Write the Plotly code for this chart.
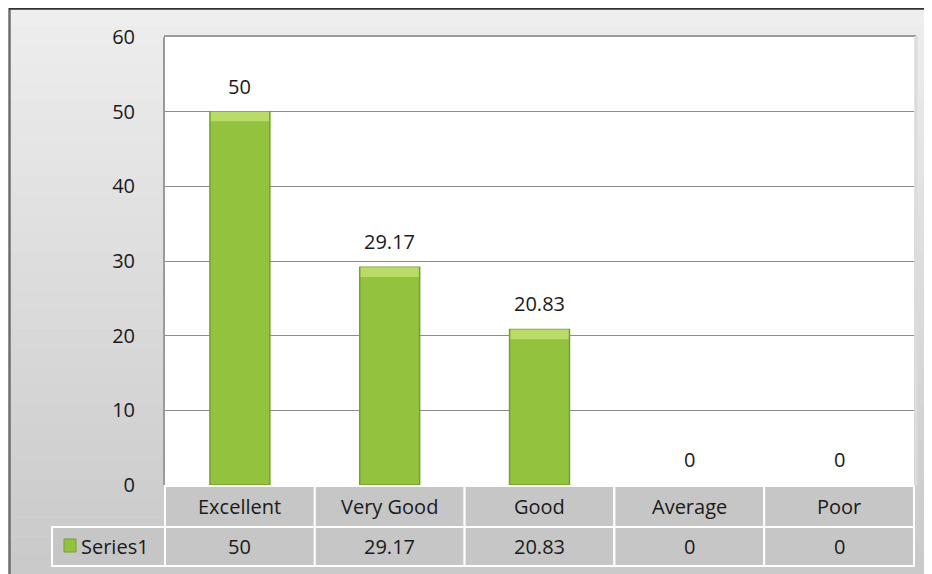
import plotly.graph_objects as go

# ---- data ----
categories = ["Excellent", "Very Good", "Good", "Average", "Poor"]
values = [50, 29.17, 20.83, 0, 0]
value_labels = ["50", "29.17", "20.83", "0", "0"]
series_name = "Series1"
y_ticks = [0, 10, 20, 30, 40, 50, 60]

# ---- layout geometry (pixels, in screenshot coordinates; page body has an 8px margin) ----
OFF = 8
W, H = 932 - OFF, 574 - OFF
PL, PR, PT, PB = 165, 914, 37, 485     # plot area in screenshot coords
L, R, T, B = PL - OFF, W - (PR - OFF), PT - OFF, H - (PB - OFF)
FONT = "Open Sans"
TXT = "#1a1a1a"
FS = 20
BAR = "#92c23e"
BAR_EDGE = "#76a02c"
BEVEL = "#b9dc68"
BEVEL_H = 1.3   # bevel thickness in axis units

def px(x):
    return (x - OFF - L) / (W - L - R)

def py(y):
    return (H - B - (y - OFF)) / (H - T - B)

n = len(categories)
x_range = [-0.5, n - 0.5]

def cx(i, off=0.0):
    return (i + off - x_range[0]) / (x_range[1] - x_range[0])

fig = go.Figure()
fig.add_trace(go.Bar(
    x=categories, y=values, width=0.4, name=series_name,
    marker=dict(color=BAR,
                line=dict(color=BAR_EDGE, width=[1.5 if v > 0 else 0 for v in values])),
    showlegend=False, hoverinfo="skip",
))
# top bevel highlight
fig.add_trace(go.Bar(
    x=categories, y=[BEVEL_H if v > 0 else 0 for v in values],
    base=[v - BEVEL_H if v > 0 else 0 for v in values], width=0.4 - 0.012,
    marker=dict(color=BEVEL, line=dict(width=0)),
    showlegend=False, hoverinfo="skip",
))

shapes = []
# outer gray gradient background
bands = 30
top_y, bot_y = 7, 574
for k in range(bands):
    y0 = top_y + (bot_y - top_y) * k / bands
    y1 = top_y + (bot_y - top_y) * (k + 1) / bands
    t = k / (bands - 1)
    c = int(238 - (238 - 202) * t)
    shapes.append(dict(type="rect", xref="paper", yref="paper", layer="below",
                       x0=px(9), x1=px(940), y0=py(y0), y1=py(y1 + 0.5),
                       fillcolor=f"rgb({c},{c},{c})", line=dict(width=0)))
# outer border
shapes.append(dict(type="line", xref="paper", yref="paper", layer="below",
                   x0=px(9.5), x1=px(9.5), y0=py(8), y1=py(580),
                   line=dict(color="#6e6e6e", width=2.5)))
shapes.append(dict(type="line", xref="paper", yref="paper", layer="below",
                   x0=px(9), x1=px(940), y0=py(8.5), y1=py(8.5),
                   line=dict(color="#333333", width=2.5)))
# plot area white
shapes.append(dict(type="rect", xref="paper", yref="paper", layer="below",
                   x0=0, x1=1, y0=0, y1=1, fillcolor="white", line=dict(width=0)))
# plot area shadow on top/right
shapes.append(dict(type="line", xref="paper", yref="paper", layer="below",
                   x0=px(PL - 1), x1=px(PR + 2), y0=py(PT - 1), y1=py(PT - 1),
                   line=dict(color="#9a9a9a", width=2)))
shapes.append(dict(type="line", xref="paper", yref="paper", layer="below",
                   x0=px(PR + 2), x1=px(PR + 2), y0=py(PT - 1), y1=py(PB),
                   line=dict(color="#dcdcdc", width=3)))

# table
hdr_top, hdr_bot, val_bot = 486, 527, 566
cell_fill = "#c6c6c6"
for i in range(n):
    for (ya, yb) in [(hdr_top, hdr_bot), (hdr_bot, val_bot)]:
        shapes.append(dict(type="rect", xref="paper", yref="paper", layer="above",
                           x0=cx(i, -0.5), x1=cx(i, 0.5), y0=py(yb), y1=py(ya),
                           fillcolor=cell_fill, line=dict(color="white", width=2)))
# series name cell
shapes.append(dict(type="rect", xref="paper", yref="paper", layer="above",
                   x0=px(52), x1=0, y0=py(val_bot), y1=py(hdr_bot),
                   fillcolor=cell_fill, line=dict(color="white", width=2)))
# legend key
shapes.append(dict(type="rect", xref="paper", yref="paper", layer="above",
                   x0=px(64), x1=px(76), y0=py(552), y1=py(539),
                   fillcolor=BAR, line=dict(color=BAR_EDGE, width=1)))

annotations = []
for i, (c, v, lab) in enumerate(zip(categories, values, value_labels)):
    annotations.append(dict(x=c, y=v, xref="x", yref="y", text=lab, showarrow=False,
                            yanchor="bottom", yshift=10,
                            font=dict(family=FONT, size=FS, color=TXT)))
    annotations.append(dict(x=cx(i), y=py((hdr_top + hdr_bot) / 2), xref="paper", yref="paper",
                            text=c, showarrow=False, xanchor="center", yanchor="middle",
                            font=dict(family=FONT, size=FS, color=TXT)))
    annotations.append(dict(x=cx(i), y=py((hdr_bot + val_bot) / 2), xref="paper", yref="paper",
                            text=lab, showarrow=False, xanchor="center", yanchor="middle",
                            font=dict(family=FONT, size=FS, color=TXT)))
annotations.append(dict(x=px(79), y=py((hdr_bot + val_bot) / 2), xref="paper", yref="paper",
                        text=series_name, showarrow=False, xanchor="left", yanchor="middle",
                        font=dict(family=FONT, size=FS, color=TXT)))

fig.update_layout(
    width=W, height=H,
    margin=dict(l=L, r=R, t=T, b=B),
    paper_bgcolor="white", plot_bgcolor="white",
    shapes=shapes, annotations=annotations,
    barmode="overlay",
    xaxis=dict(range=x_range, showticklabels=False, showgrid=False, zeroline=False,
               showline=False, fixedrange=True),
    yaxis=dict(range=[0, 60], tickvals=y_ticks, showgrid=True, gridcolor="#8c8c8c",
               gridwidth=1, zeroline=False, showline=True, linecolor="#9a9a9a", linewidth=2,
               ticks="", ticklabelstandoff=24,
               tickfont=dict(family=FONT, size=FS, color=TXT)),
)

fig.write_html("out.html")
